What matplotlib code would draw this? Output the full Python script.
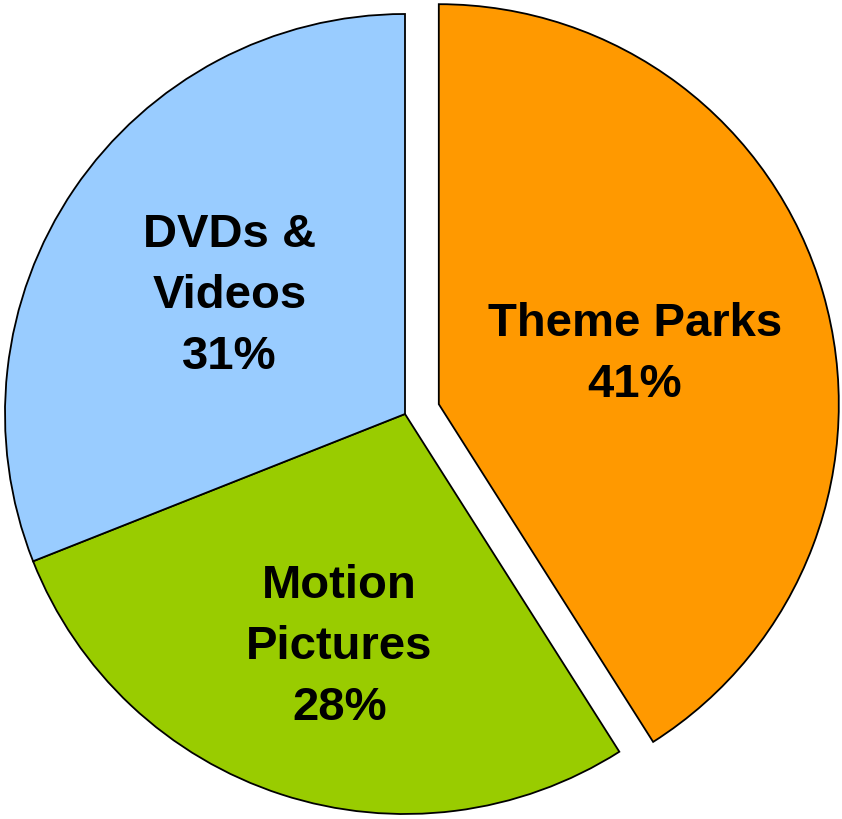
import matplotlib
matplotlib.use('Agg')
import matplotlib.pyplot as plt
import numpy as np

labels = ['Theme Parks', 'Motion\nPictures', 'DVDs &\nVideos']
values = [41, 28, 31]
colors = ['#FF9900', '#99CC00', '#99CCFF']
explode = [0.088, 0, 0]

# label placement: distance along the slice's mid angle plus a small nudge
label_dist = [0.51, 0.61, 0.53]
label_nudge = [(0.0, -0.017), (0.025, -0.002), (0.0, -0.002)]

plt.rcParams['font.family'] = ['Liberation Sans', 'DejaVu Sans']

fig = plt.figure(figsize=(8.42, 8.19), dpi=100)
ax = fig.add_axes([0, 0, 1, 1])

wedges, _ = ax.pie(values, colors=colors, explode=explode, startangle=90,
                   counterclock=False, radius=1.0,
                   wedgeprops=dict(edgecolor='black', linewidth=1.3))

for w, lab, v, d, (nx, ny) in zip(wedges, labels, values, label_dist, label_nudge):
    mid = np.deg2rad((w.theta1 + w.theta2) / 2.0)
    cx, cy = w.center
    ax.text(cx + d * np.cos(mid) + nx, cy + d * np.sin(mid) + ny,
            '%s\n%d%%' % (lab, v),
            ha='center', va='center', fontsize=34, fontweight='bold',
            linespacing=1.5)

ax.set_xlim(-405 / 400, (842 - 405) / 400)
ax.set_ylim(-(819 - 414) / 400, 414 / 400)
ax.set_aspect('auto')
ax.axis('off')

fig.savefig('out.png', dpi=100)
